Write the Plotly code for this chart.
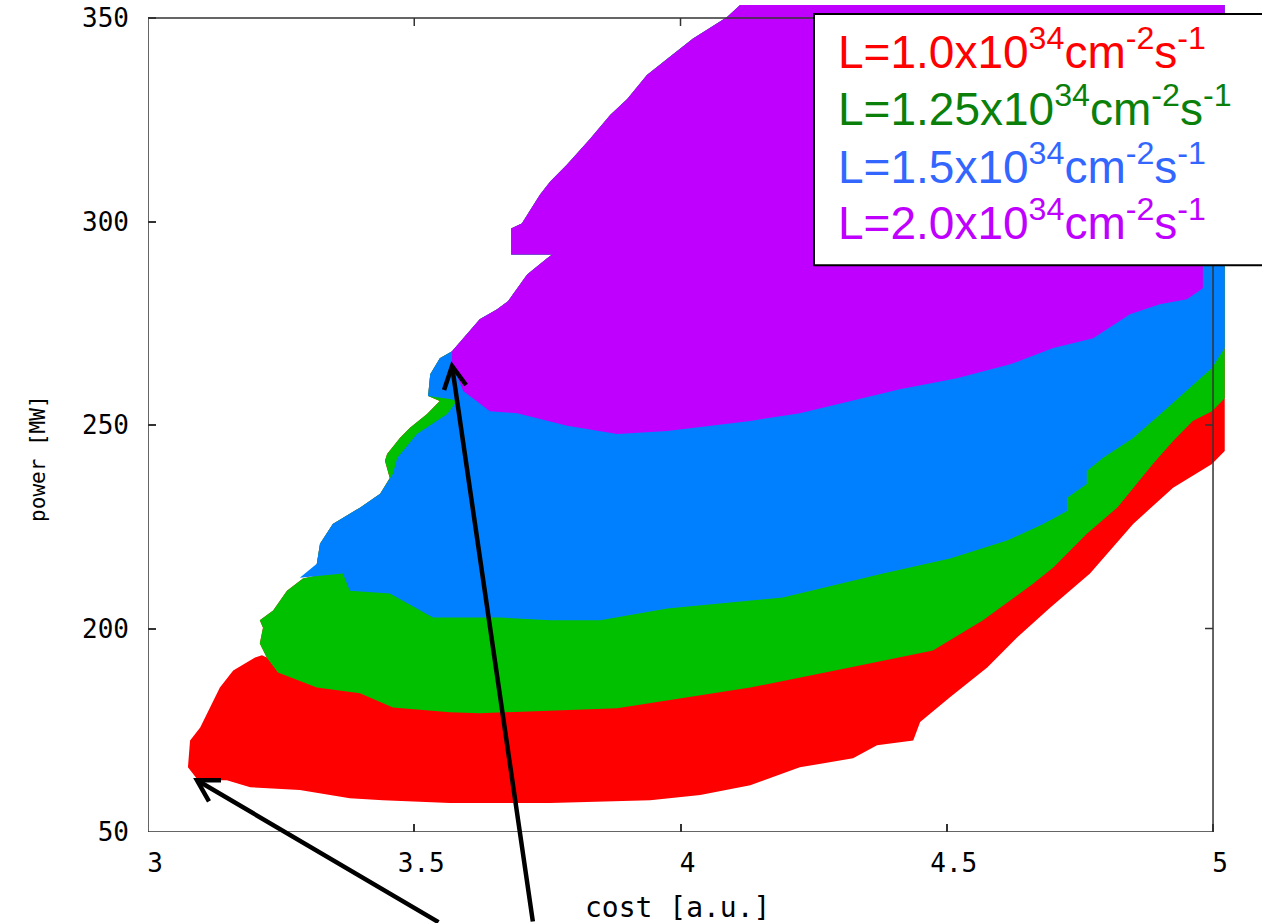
import plotly.graph_objects as go

# ---------------- data (boundaries of the feasible regions, in data units) ----------------
# shared outer edge (top of the purple region, running off the frame) and left boundaries
edge_top_x = [5.022, 4.112]
edge_top_y = [353.2, 353.2]

purple_left_x = [4.087, 4.023, 3.975, 3.937, 3.900, 3.868, 3.830, 3.787, 3.755, 3.736, 3.702,
                 3.682, 3.682, 3.759, 3.749, 3.712, 3.676, 3.655, 3.623, 3.599, 3.571]
purple_left_y = [350.2, 344.9, 340.0, 336.0, 330.1, 326.2, 320.3, 314.0, 309.8, 306.6, 299.5,
                 298.3, 291.9, 291.9, 290.9, 287.0, 280.4, 278.4, 276.0, 272.3, 268.1]

blue_tip_x = [3.548, 3.530, 3.526]
blue_tip_y = [266.4, 262.5, 257.1]

green_strip_x = [3.548, 3.524, 3.492, 3.473, 3.449, 3.445, 3.454]
green_strip_y = [255.9, 252.7, 249.3, 246.8, 242.9, 241.2, 237.0]

blue_inner_x = [3.567, 3.580, 3.562, 3.505, 3.468, 3.460]
blue_inner_y = [256.4, 255.9, 252.7, 247.8, 241.9, 238.0]

blue_white_x = [3.436, 3.398, 3.347, 3.323, 3.317]
blue_white_y = [233.1, 229.7, 225.7, 220.8, 215.9]

green_white_x = [3.317, 3.291, 3.261, 3.235, 3.210, 3.216, 3.210, 3.223]
green_white_y = [213.0, 212.3, 209.3, 204.4, 202.0, 200.2, 196.3, 192.9]

red_white_x = [3.214, 3.201, 3.160, 3.135, 3.116, 3.098, 3.079, 3.075]
red_white_y = [193.4, 192.9, 189.7, 185.5, 180.6, 175.7, 172.5, 165.9]

# lower boundaries of each luminosity region
red_bottom_x = [3.094, 3.148, 3.192, 3.285, 3.379, 3.441, 3.567, 3.755, 3.943, 4.037, 4.131,
                4.224, 4.324, 4.369, 4.437, 4.450, 4.506, 4.576, 4.632, 4.694, 4.769, 4.850,
                4.925, 4.998, 5.022]
red_bottom_y = [162.7, 162.7, 161.0, 160.3, 158.3, 157.8, 157.1, 157.1, 157.8, 159.1, 161.5,
                165.9, 168.1, 171.3, 172.5, 177.0, 183.1, 190.4, 197.8, 205.1, 213.5, 225.7,
                234.6, 240.4, 243.6]

green_bottom_x = [3.244, 3.317, 3.398, 3.460, 3.567, 3.623, 3.881, 4.131, 4.318, 4.474, 4.568,
                  4.662, 4.700, 4.745, 4.763, 4.820, 4.887, 4.925, 4.962, 4.998, 5.022]
green_bottom_y = [189.2, 185.5, 184.1, 180.6, 179.4, 179.2, 180.4, 185.5, 190.4, 194.6, 202.0,
                  211.0, 215.0, 220.8, 223.3, 229.7, 240.4, 246.1, 251.0, 253.4, 256.6]

blue_bottom_x = [3.285, 3.366, 3.379, 3.454, 3.535, 3.661, 3.755, 3.849, 3.975, 4.192, 4.380,
                 4.506, 4.613, 4.681, 4.726, 4.726, 4.763, 4.763, 4.793, 4.850, 4.914, 4.976,
                 4.998, 5.022]
blue_bottom_y = [212.5, 213.5, 209.3, 208.6, 202.7, 202.7, 202.0, 202.0, 204.9, 207.6, 213.5,
                 217.2, 221.6, 225.7, 228.9, 232.1, 235.5, 238.7, 241.9, 246.8, 254.2, 261.5,
                 264.0, 268.9]

purple_bottom_x = [3.571, 3.592, 3.610, 3.642, 3.693, 3.787, 3.881, 3.975, 4.131, 4.224, 4.412,
                   4.519, 4.619, 4.700, 4.775, 4.844, 4.900, 4.951, 4.981, 4.981, 5.022]
purple_bottom_y = [264.9, 258.3, 256.6, 253.4, 252.9, 249.8, 247.8, 248.5, 251.0, 252.9, 258.8,
                   261.5, 264.9, 268.9, 271.3, 277.2, 279.7, 280.9, 283.6, 292.6, 295.1]

labels = ["L=1.0x10<sup>34</sup>cm<sup>-2</sup>s<sup>-1</sup>",
          "L=1.25x10<sup>34</sup>cm<sup>-2</sup>s<sup>-1</sup>",
          "L=1.5x10<sup>34</sup>cm<sup>-2</sup>s<sup>-1</sup>",
          "L=2.0x10<sup>34</sup>cm<sup>-2</sup>s<sup>-1</sup>"]
fill_colors = ["#FF0000", "#00C000", "#0080FF", "#C000FF"]
text_colors = ["#FF0000", "#0A800A", "#3366FF", "#C000FF"]

x_ticks = [3, 3.5, 4, 4.5, 5]
x_ticktext = ["3", "3.5", "4", "4.5", "5"]
y_ticks = [150, 200, 250, 300, 350]
y_ticktext = ["50", "200", "250", "300", "350"]

# arrow tips (data units) pointing at the lowest-cost points
arrow_tip_x = [3.092, 3.571]
arrow_tip_y = [162.7, 264.5]

# ---------------- polygons ----------------
left_common_x = edge_top_x + purple_left_x + blue_tip_x
left_common_y = edge_top_y + purple_left_y + blue_tip_y

polys = [
    (red_bottom_x + left_common_x + green_strip_x + blue_white_x + green_white_x + red_white_x,
     red_bottom_y + left_common_y + green_strip_y + blue_white_y + green_white_y + red_white_y),
    (green_bottom_x + left_common_x + green_strip_x + blue_white_x + green_white_x,
     green_bottom_y + left_common_y + green_strip_y + blue_white_y + green_white_y),
    (blue_bottom_x + left_common_x + blue_inner_x + blue_white_x,
     blue_bottom_y + left_common_y + blue_inner_y + blue_white_y),
    (purple_bottom_x + edge_top_x + purple_left_x,
     purple_bottom_y + edge_top_y + purple_left_y),
]

fig = go.Figure()
for (px, py), col, lab in zip(polys, fill_colors, labels):
    fig.add_trace(go.Scatter(x=px + [px[0]], y=py + [py[0]], mode="lines", fill="toself",
                             fillcolor=col, line=dict(width=0, color=col),
                             hoverinfo="skip", name=lab, showlegend=False))

tick_font = dict(family="DejaVu Sans Mono", size=26, color="#000000")
frame_col = "#333333"

fig.update_layout(
    width=1262, height=923, autosize=False,
    margin=dict(l=148, r=37, t=3, b=91, pad=0),
    paper_bgcolor="white", plot_bgcolor="white",
    xaxis=dict(range=[3, 5.0225], showgrid=False, zeroline=False, showline=False,
               ticks="inside", ticklen=8, tickwidth=1.5, tickcolor=frame_col,
               tickvals=x_ticks, ticktext=x_ticktext, tickfont=tick_font,
               ticklabelstandoff=13, ticklabelshift=7),
    yaxis=dict(range=[150, 353.2], showgrid=False, zeroline=False, showline=False,
               ticks="inside", ticklen=8, tickwidth=1.5, tickcolor=frame_col,
               tickvals=y_ticks, ticktext=y_ticktext, tickfont=tick_font,
               ticklabelstandoff=18),
)

# frame
fig.add_shape(type="rect", x0=x_ticks[0], x1=x_ticks[-1], y0=y_ticks[0], y1=y_ticks[-1],
              xref="x", yref="y", line=dict(color=frame_col, width=1.5), layer="above")
# mirrored ticks on right and top
for yv in y_ticks[1:-1]:
    fig.add_shape(type="line", xref="x", yref="y", xsizemode="pixel", xanchor=x_ticks[-1],
                  x0=0, x1=-8, y0=yv, y1=yv, line=dict(color=frame_col, width=1.5), layer="above")
for xv in x_ticks[1:-1]:
    fig.add_shape(type="line", xref="x", yref="y", ysizemode="pixel", yanchor=y_ticks[-1],
                  y0=0, y1=-8, x0=xv, x1=xv, line=dict(color=frame_col, width=1.5), layer="above")

# axis titles
fig.add_annotation(text="cost [a.u.]", xref="paper", yref="paper", x=(677 - 148) / 1077,
                   y=-(908 - 832) / 829, showarrow=False, xanchor="center", yanchor="middle",
                   font=dict(family="DejaVu Sans Mono", size=28, color="#000000"))
fig.add_annotation(text="power [MW]", xref="paper", yref="paper", x=-(148 - 38) / 1077,
                   y=(832 - 458) / 829, showarrow=False, xanchor="center", yanchor="middle",
                   textangle=-90, font=dict(family="DejaVu Sans Mono", size=21, color="#000000"))

# legend box
fig.add_shape(type="rect", xref="paper", yref="paper", x0=(814 - 148) / 1077, x1=1.06,
              y0=(832 - 264) / 829, y1=(832 - 12) / 829,
              line=dict(color="black", width=2), fillcolor="white", layer="above")
line_py = [47, 104, 162, 219]
for lab, col, py in zip(labels, text_colors, line_py):
    fig.add_annotation(text=lab, xref="paper", yref="paper", x=(836 - 148) / 1077,
                       y=(832 - py) / 829, showarrow=False, xanchor="left", yanchor="middle",
                       font=dict(family="Liberation Sans", size=46, color=col))

# arrows: shafts as annotation arrows (not clipped), open V heads as pixel-sized paths
arrow_tail_offsets = [(243, 143), (81, 558)]
arrow_head_paths = [
    "M 24,0 L 0,0 L 12,-21",
    "M -8,-24 L 0,0 L 14,-19",
]
for xt, yt, (axp, ayp), pth in zip(arrow_tip_x, arrow_tip_y, arrow_tail_offsets, arrow_head_paths):
    fig.add_annotation(x=xt, y=yt, xref="x", yref="y", ax=axp, ay=ayp, text="",
                       showarrow=True, arrowhead=0, arrowwidth=4.5, arrowcolor="black",
                       standoff=0, startstandoff=0)
    fig.add_shape(type="path", xref="x", yref="y", xsizemode="pixel", ysizemode="pixel",
                  xanchor=xt, yanchor=yt, path=pth,
                  line=dict(color="black", width=4.5), layer="above")

fig.write_html("out.html")
